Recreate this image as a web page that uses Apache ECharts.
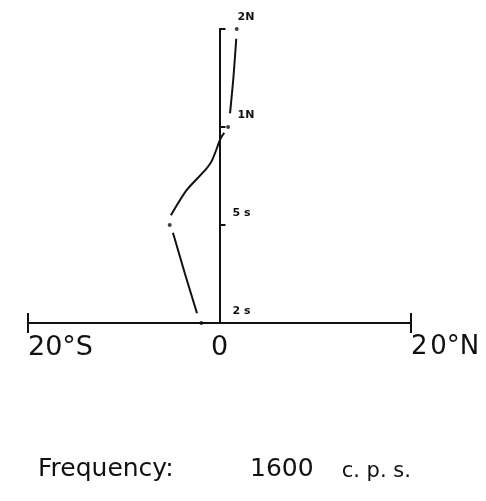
<!DOCTYPE html>
<html>
<head>
<meta charset="utf-8">
<script src="https://cdn.jsdelivr.net/npm/echarts@6/dist/echarts.min.js"></script>
<style>
	html, body { margin: 0; padding: 0; background: #fff; }
	#draw { width: 486px; height: 501px; }
</style>
</head>
<body>
<div id="draw"></div>
<script>
	// latitude ticks (degrees, S negative) and their labels
	var latTicks = [-20, 0, 20];
	var latLabels = ['20°S', '0', '2\u200A0°N'];
	// time marks up the vertical axis (index 0..3)
	var timeTicks = [0, 1, 2, 3];
	var timeLabels = ['2 s', '5 s', '1N', '2N'];

	// traced pieces of the drawn curve [lat, time index]
	var traceTop = [[1.75, 2.9], [1.45, 2.5], [1.1, 2.14]];
	var traceMid = [[0.5, 1.94], [0.15, 1.89], [-0.78, 1.66], [-1.5, 1.56], [-3.4, 1.36], [-5.07, 1.1]];
	var traceLow = [[-4.86, 0.92], [-3.6, 0.5], [-2.35, 0.1]];
	// measured points (dots)
	var dots = [[1.8, 3], [0.9, 2], [-5.2, 1], [-1.9, 0]];

	var ink = '#111';

	function traceSeries(data) {
		return {
			type: 'line',
			data: data,
			smooth: 0.25,
			symbol: 'none',
			lineStyle: { color: ink, width: 2 },
			silent: true
		};
	}

	var myChart = echarts.init(document.getElementById('draw'));
	myChart.setOption({
		backgroundColor: '#fff',
		animation: false,
		title: [{
			text: 'Frequency:',
			left: 33,
			top: 452,
			textStyle: { fontFamily: 'DejaVu Sans', fontSize: 25, fontWeight: 'normal', color: ink }
		}, {
			text: '{d|1600}{c|   c. p. s.}',
			left: 245,
			top: 452,
			textStyle: {
				fontWeight: 'normal',
				rich: {
					d: { fontFamily: 'DejaVu Sans', fontSize: 25, fontWeight: 'normal', color: ink },
					c: { fontFamily: 'DejaVu Sans', fontSize: 21, fontWeight: 'normal', color: ink, verticalAlign: 'bottom', padding: [0, 0, 0, 8] }
				}
			}
		}],
		grid: {
			left: 28,
			right: 75,
			top: 29,
			bottom: 178
		},
		xAxis: [{
			type: 'value',
			position: 'bottom',
			min: -20,
			max: 20,
			interval: 20,
			axisLine: { lineStyle: { color: ink, width: 2 } },
			axisTick: {
				show: true,
				customValues: [-20, 20],
				length: 10,
				lineStyle: { color: ink, width: 2 }
			},
			axisLabel: {
				customValues: latTicks,
				formatter: function (v) {
					var t = latLabels[latTicks.indexOf(v)];
					return v > 0 ? '{n|' + t + '}' : t;
				},
				alignMinLabel: 'left',
				alignMaxLabel: 'left',
				margin: 11,
				fontFamily: 'DejaVu Sans',
				fontSize: 27,
				color: ink,
				rich: {
					n: { fontFamily: 'DejaVu Sans', fontSize: 26, color: ink }
				}
			},
			splitLine: { show: false }
		}, {
			type: 'value',
			position: 'bottom',
			min: -20,
			max: 20,
			interval: 20,
			axisLine: { show: false },
			axisTick: {
				show: true,
				inside: true,
				customValues: [-20, 20],
				length: 10,
				lineStyle: { color: ink, width: 2 }
			},
			axisLabel: { show: false },
			splitLine: { show: false }
		}],
		yAxis: {
			type: 'value',
			min: 0,
			max: 3,
			interval: 1,
			// sits on the 0 meridian
			offset: -191.5,
			axisLine: { show: true, onZero: false, lineStyle: { color: ink, width: 2 } },
			axisTick: {
				show: true,
				inside: true,
				customValues: [1, 2, 3],
				length: 6,
				lineStyle: { color: ink, width: 2 }
			},
			axisLabel: {
				inside: true,
				margin: 13,
				customValues: timeTicks,
				formatter: function (v) {
					var t = timeLabels[v];
					return t.indexOf('N') >= 0 ? '{n|' + t + '}' : '{s|' + t + '}';
				},
				rich: {
					s: { fontFamily: 'DejaVu Sans', fontSize: 11, fontWeight: 'bold', color: ink, padding: [0, 0, 24, 0] },
					n: { fontFamily: 'DejaVu Sans', fontSize: 11, fontWeight: 'bold', color: ink, padding: [0, 0, 24, 5] }
				}
			},
			splitLine: { show: false }
		},
		series: [
			traceSeries(traceTop),
			traceSeries(traceMid),
			traceSeries(traceLow),
			{
				type: 'scatter',
				data: dots,
				symbol: 'circle',
				symbolSize: 4,
				itemStyle: { color: ink },
				silent: true
			}
		]
	});
</script>
</body>
</html>
